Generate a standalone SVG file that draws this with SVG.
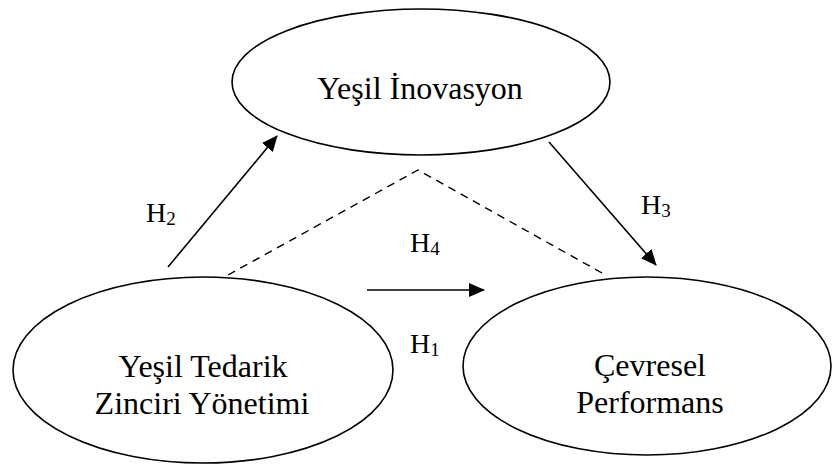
<svg xmlns="http://www.w3.org/2000/svg" width="833" height="468" viewBox="0 0 833 468">
<defs>
<marker id="ahL" markerWidth="16" markerHeight="14" refX="15" refY="7" orient="auto" markerUnits="userSpaceOnUse" viewBox="0 0 16 14">
<path d="M0,0 L16,7 L0,14 z" fill="#000"/>
</marker>
</defs>
<style>
.node{fill:#fff;stroke:#000;stroke-width:1.6}
.t{font-family:"Liberation Serif","Times New Roman",serif;font-size:32px;fill:#000}
.h{font-family:"Liberation Serif","Times New Roman",serif;font-size:28px;fill:#000}
.sub{font-size:19px}
.c{fill:none;stroke:#000;stroke-width:1.6}
.d{fill:none;stroke:#000;stroke-width:1.4;stroke-dasharray:8,6}
</style>
<rect width="833" height="468" fill="#fff"/>
<g id="node-inovasyon">
<ellipse class="node" cx="421" cy="82" rx="189" ry="73"/>
<text class="t" x="420" y="99" text-anchor="middle">Yeşil İnovasyon</text>
</g>
<g id="node-tedarik">
<ellipse class="node" cx="203" cy="370" rx="190" ry="93"/>
<text class="t" x="203" y="377" text-anchor="middle">Yeşil Tedarik</text>
<text class="t" x="202" y="414" text-anchor="middle">Zinciri Yönetimi</text>
</g>
<g id="node-performans">
<ellipse class="node" cx="647" cy="366" rx="184" ry="89"/>
<text class="t" x="650" y="376" text-anchor="middle">Çevresel</text>
<text class="t" x="650" y="413" text-anchor="middle">Performans</text>
</g>
<g id="connectors">
<line class="c" x1="168" y1="267" x2="277" y2="136" marker-end="url(#ahL)"/>
<line class="c" x1="549" y1="142" x2="656" y2="265" marker-end="url(#ahL)"/>
<line class="c" x1="367" y1="290" x2="484" y2="290" marker-end="url(#ahL)"/>
<polyline class="d" points="228,275 418,170 602,273"/>
</g>
<g id="labels">
<text class="h" x="146" y="222">H<tspan class="sub" dy="3">2</tspan></text>
<text class="h" x="410" y="252">H<tspan class="sub" dy="3">4</tspan></text>
<text class="h" x="641" y="214">H<tspan class="sub" dy="3">3</tspan></text>
<text class="h" x="410" y="353">H<tspan class="sub" dy="3">1</tspan></text>
</g>
</svg>
